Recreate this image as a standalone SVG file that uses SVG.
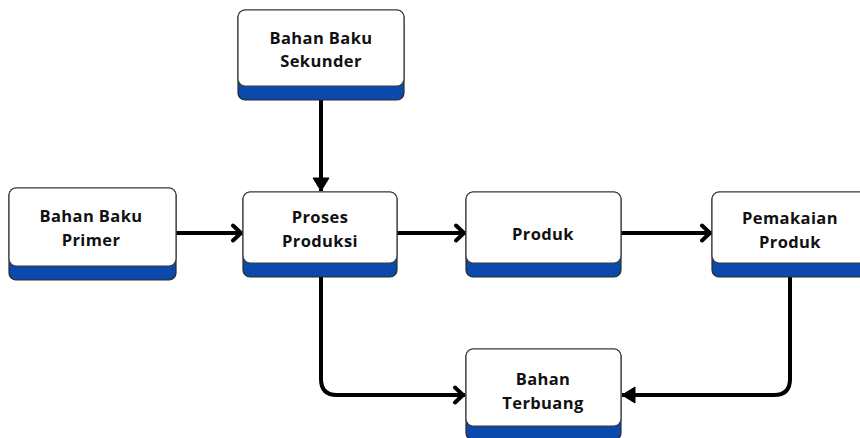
<svg xmlns="http://www.w3.org/2000/svg" width="860" height="438" viewBox="0 0 860 438">
  <style>
    .base { fill: #0b4aac; stroke: #2b2b2b; stroke-width: 1.2; }
    .face { fill: #ffffff; stroke: #3a3a3a; stroke-width: 1.2; }
    .label { font-family: "Open Sans", "Liberation Sans", sans-serif; font-weight: 700; font-size: 16.5px; letter-spacing: 0.4px; fill: #111111; text-anchor: middle; }
    .wire { fill: none; stroke: #000000; stroke-width: 4; stroke-linejoin: round; }
  </style>
  <defs>
    <marker id="chevron" markerUnits="userSpaceOnUse" viewBox="-14 -10 16 20" markerWidth="16" markerHeight="20" refX="0" refY="0" orient="auto">
      <path d="M-10,-7.5 L-2,0 L-10,7.5" fill="none" stroke="#000" stroke-width="4" stroke-linecap="round" stroke-linejoin="miter"/>
    </marker>
    <marker id="solid" markerUnits="userSpaceOnUse" viewBox="-14 -10 16 20" markerWidth="16" markerHeight="20" refX="0" refY="0" orient="auto">
      <path d="M-13,-8 L0,0 L-13,8 Z" fill="#000" stroke="#000" stroke-width="1" stroke-linejoin="round"/>
    </marker>
  </defs>

  <rect width="860" height="438" fill="#ffffff"/>

  <!-- connectors -->
  <g id="connectors">
    <line class="wire" x1="176" y1="233" x2="243" y2="233" marker-end="url(#chevron)"/>
    <line class="wire" x1="397" y1="233" x2="466" y2="233" marker-end="url(#chevron)"/>
    <line class="wire" x1="621" y1="233" x2="712" y2="233" marker-end="url(#chevron)"/>
    <line class="wire" x1="321" y1="100" x2="321" y2="191" marker-end="url(#solid)"/>
    <path class="wire" d="M321,277 V379 Q321,395 337,395 H465" marker-end="url(#chevron)"/>
    <path class="wire" d="M790,277 V379 Q790,395 774,395 H622" marker-end="url(#solid)"/>
  </g>

  <!-- nodes -->
  <g id="bahan-baku-sekunder">
    <rect class="base" x="238" y="10" width="166" height="90" rx="7"/>
    <rect class="face" x="238" y="10" width="166" height="76" rx="7"/>
    <text class="label" x="321" y="44">Bahan Baku</text>
    <text class="label" x="321" y="67">Sekunder</text>
  </g>

  <g id="bahan-baku-primer">
    <rect class="base" x="9" y="188" width="167" height="92" rx="7"/>
    <rect class="face" x="9" y="188" width="167" height="78" rx="7"/>
    <text class="label" x="91" y="222">Bahan Baku</text>
    <text class="label" x="91" y="246">Primer</text>
  </g>

  <g id="proses-produksi">
    <rect class="base" x="243" y="192" width="154" height="85" rx="7"/>
    <rect class="face" x="243" y="192" width="154" height="71" rx="7"/>
    <text class="label" x="320" y="223">Proses</text>
    <text class="label" x="320" y="247">Produksi</text>
  </g>

  <g id="produk">
    <rect class="base" x="466" y="192" width="155" height="85" rx="7"/>
    <rect class="face" x="466" y="192" width="155" height="71" rx="7"/>
    <text class="label" x="543" y="240">Produk</text>
  </g>

  <g id="pemakaian-produk">
    <rect class="base" x="712" y="192" width="155" height="85" rx="7"/>
    <rect class="face" x="712" y="192" width="155" height="71" rx="7"/>
    <text class="label" x="790" y="224">Pemakaian</text>
    <text class="label" x="790" y="248">Produk</text>
  </g>

  <g id="bahan-terbuang">
    <rect class="base" x="466" y="349" width="155" height="91" rx="7"/>
    <rect class="face" x="466" y="349" width="155" height="77" rx="7"/>
    <text class="label" x="543" y="385">Bahan</text>
    <text class="label" x="543" y="409">Terbuang</text>
  </g>
</svg>
